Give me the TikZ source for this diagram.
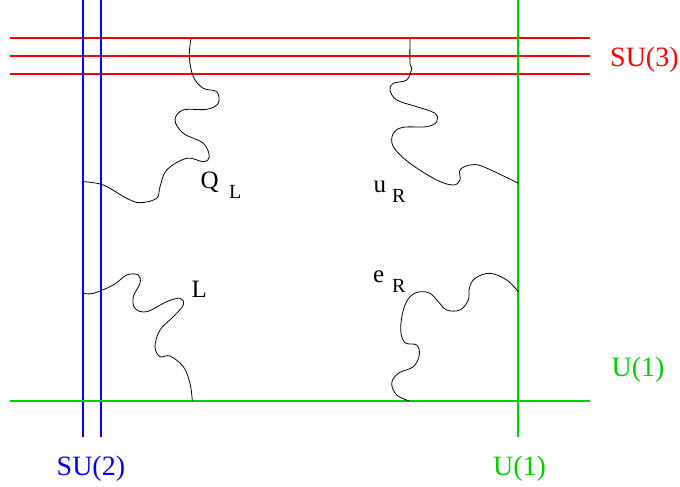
\documentclass[tikz,border=0pt]{standalone}
\usepackage{fontspec}
\setmainfont{Liberation Serif}
\definecolor{gred}{RGB}{255,0,0}
\definecolor{gblue}{RGB}{0,0,255}
\definecolor{ggreen}{RGB}{0,210,0}
\tikzset{
  gauge/.style={line width=1.3pt},
  wavy/.style={line width=0.8pt, black},
  grouplbl/.style={font=\fontsize{28}{28}\selectfont, anchor=base west, inner sep=0pt},
  fieldlbl/.style={font=\fontsize{25}{25}\selectfont, anchor=base west, inner sep=0pt},
  sublbl/.style={font=\fontsize{20}{20}\selectfont, anchor=base west, inner sep=0pt}
}
\begin{document}
\begin{tikzpicture}[x=1pt,y=-1pt]
\useasboundingbox (0,0) rectangle (680,487);
% coordinates
\coordinate (r1w) at (10,38); \coordinate (r1e) at (590,38);
\coordinate (r2w) at (10,56); \coordinate (r2e) at (590,56);
\coordinate (r3w) at (10,74); \coordinate (r3e) at (590,74);
\coordinate (b1n) at (83,0); \coordinate (b1s) at (83,437);
\coordinate (b2n) at (101,0); \coordinate (b2s) at (101,437);
\coordinate (gvn) at (518,0); \coordinate (gvs) at (518,437);
\coordinate (ghw) at (10,401); \coordinate (ghe) at (590,401);
% gauge lines
\draw[gauge,gred] (r1w) -- (r1e);
\draw[gauge,gred] (r2w) -- (r2e);
\draw[gauge,gred] (r3w) -- (r3e);
\draw[gauge,gblue] (b1n) -- (b1s);
\draw[gauge,gblue] (b2n) -- (b2s);
\draw[gauge,ggreen] (gvn) -- (gvs);
\draw[gauge,ggreen] (ghw) -- (ghe);
% group labels
\node[grouplbl,text=gred] (su3) at (610,66.5) {SU(3)};
\node[grouplbl,text=ggreen] (u1r) at (611.5,376) {U(1)};
\node[grouplbl,text=gblue] (su2) at (56.5,475) {SU(2)};
\node[grouplbl,text=ggreen] (u1b) at (493,475) {U(1)};
% field labels
\node[fieldlbl] (ql) at (200.5,188) {Q};
\node[sublbl] (qls) at (229,198.5) {L};
\node[fieldlbl] (ur) at (373.5,192.5) {u};
\node[sublbl] (urs) at (392,202.5) {R};
\node[fieldlbl] (er) at (373,282) {e};
\node[sublbl] (ers) at (392,292.5) {R};
\node[fieldlbl] (l) at (191.5,297.3) {L};
% wavy lines
\draw[wavy] plot[smooth,tension=0.6] coordinates {(191,38.3) (189.3,56.7) (193.3,76.7) (203.3,88.3) (216.7,91.7) (218.3,103.3) (206.7,109.3) (183.3,110) (175,120) (183.3,133.3) (203.3,143.3) (209.3,156.7) (203.3,161.7) (186.7,158.3) (166.7,170) (160,186.7) (156.7,198.3) (140,202.7) (126.7,198.3) (103.3,185) (83.3,181.7)};
\draw[wavy] plot[smooth,tension=0.6] coordinates {(410,38.3) (410,63.3) (411.7,68.3) (406.7,80) (393.3,83.3) (390,90) (396.7,100) (416.7,106.7) (435,113.3) (436.7,121.7) (426.7,126.7) (403.3,127.3) (393.3,133.3) (393.3,146.7) (410,163.3) (436.7,180) (453.3,185) (460,180) (460,170) (470,165) (483.3,166.7) (518.3,183.3)};
\draw[wavy] plot[smooth,tension=0.6] coordinates {(83.3,293.3) (93.3,293.3) (113.3,285) (126.7,275) (138.3,275) (140,283.3) (133.3,296.7) (135,308.3) (146.7,311.7) (166.7,301.7) (180,298.3) (183.3,305) (173.3,316.7) (160,330) (155,346.7) (160,356.7) (170,356) (183.3,366.7) (190,383.3) (192.3,401)};
\draw[wavy] plot[smooth,tension=0.6] coordinates {(518.3,291.7) (506.7,280) (490,273.3) (475,278.3) (469.3,288.3) (468.3,300) (460,310) (446.7,310) (438.3,301.7) (430,293.3) (420,291.7) (410,296.7) (403.3,310) (400.7,330) (405,342.7) (416.7,345) (419.3,355) (413.3,366.7) (398.3,373.3) (391.7,383.3) (396.7,395) (409.3,401)};
\end{tikzpicture}
\end{document}
